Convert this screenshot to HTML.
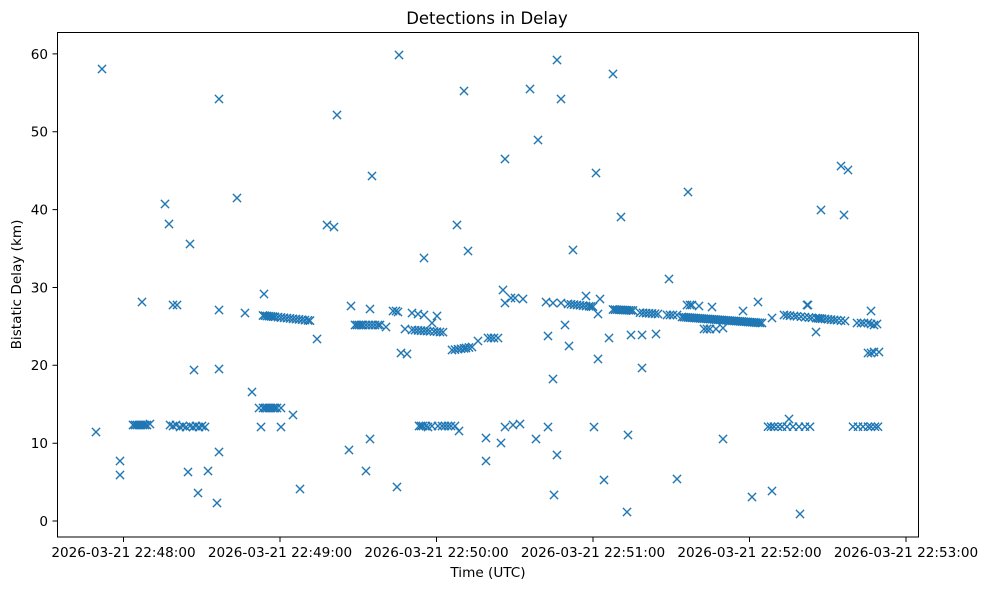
<!DOCTYPE html>
<html><head><meta charset="utf-8"><style>
html,body{margin:0;padding:0;background:#fff;}
svg{display:block;font-family:"DejaVu Sans","Liberation Sans",sans-serif;}
</style></head><body>
<svg width="988" height="590" viewBox="0 0 988 590" xmlns="http://www.w3.org/2000/svg">
<defs><path id="m" d="M-4.1,-4.1L4.1,4.1M-4.1,4.1L4.1,-4.1" stroke="#1f77b4" stroke-width="1.4" fill="none"/></defs>
<rect x="0" y="0" width="988" height="590" fill="#fff"/>
<text x="487" y="24" font-size="16.5" text-anchor="middle" fill="#000">Detections in Delay</text>
<g font-size="13.6" fill="#000">
<g text-anchor="end">
<text x="48" y="526">0</text>
<text x="48" y="448">10</text>
<text x="48" y="370">20</text>
<text x="48" y="292.5">30</text>
<text x="48" y="214.5">40</text>
<text x="48" y="136.5">50</text>
<text x="48" y="59">60</text>
</g>
<g text-anchor="middle">
<text x="123.5" y="557">2026-03-21 22:48:00</text>
<text x="280" y="557">2026-03-21 22:49:00</text>
<text x="436.5" y="557">2026-03-21 22:50:00</text>
<text x="593" y="557">2026-03-21 22:51:00</text>
<text x="749.5" y="557">2026-03-21 22:52:00</text>
<text x="906" y="557">2026-03-21 22:53:00</text>
<text x="488" y="577">Time (UTC)</text>
<text transform="translate(21,284.5) rotate(-90)">Bistatic Delay (km)</text>
</g>
</g>
<g stroke="#000" stroke-width="1">
<path d="M52.5,521H57.5M52.5,443.2H57.5M52.5,365.3H57.5M52.5,287.5H57.5M52.5,209.6H57.5M52.5,131.8H57.5M52.5,53.9H57.5"/>
<path d="M123.5,537V542M280,537V542M436.5,537V542M593,537V542M749.5,537V542M906,537V542"/>
</g>
<g>
<use href="#m" x="96" y="432"/><use href="#m" x="102" y="69"/><use href="#m" x="120" y="461"/><use href="#m" x="120" y="475"/>
<use href="#m" x="133" y="425"/><use href="#m" x="135" y="425"/><use href="#m" x="137" y="425"/><use href="#m" x="139" y="425"/><use href="#m" x="141" y="425"/><use href="#m" x="143" y="425"/><use href="#m" x="145" y="425"/><use href="#m" x="147" y="425"/><use href="#m" x="150" y="424"/>
<use href="#m" x="142" y="302"/><use href="#m" x="165" y="204"/><use href="#m" x="169" y="224"/><use href="#m" x="173" y="305"/><use href="#m" x="177" y="305"/>
<use href="#m" x="170" y="425"/><use href="#m" x="173" y="426"/><use href="#m" x="176" y="425"/><use href="#m" x="180" y="427"/><use href="#m" x="183" y="426"/><use href="#m" x="186" y="427"/><use href="#m" x="190" y="426"/><use href="#m" x="193" y="427"/><use href="#m" x="196" y="426"/><use href="#m" x="199" y="427"/><use href="#m" x="202" y="426"/><use href="#m" x="205" y="427"/>
<use href="#m" x="188" y="472"/><use href="#m" x="190" y="244"/><use href="#m" x="194" y="370"/><use href="#m" x="198" y="493"/><use href="#m" x="208" y="471"/><use href="#m" x="217" y="503"/>
<use href="#m" x="219" y="99"/><use href="#m" x="219" y="310"/><use href="#m" x="219" y="369"/><use href="#m" x="219" y="452"/><use href="#m" x="237" y="198"/><use href="#m" x="245" y="313"/><use href="#m" x="252" y="392"/>
<use href="#m" x="261" y="427"/><use href="#m" x="281" y="427"/>
<use href="#m" x="259" y="408"/><use href="#m" x="263" y="408"/><use href="#m" x="265" y="408"/><use href="#m" x="267" y="408"/><use href="#m" x="269" y="408"/><use href="#m" x="271" y="408"/><use href="#m" x="273" y="408"/><use href="#m" x="275" y="408"/><use href="#m" x="277" y="408"/><use href="#m" x="281" y="408"/>
<use href="#m" x="264" y="294"/>
<use href="#m" x="263" y="315.5"/><use href="#m" x="265" y="315.7"/><use href="#m" x="267" y="316"/><use href="#m" x="269" y="316.2"/><use href="#m" x="271" y="316.4"/><use href="#m" x="273" y="316.6"/><use href="#m" x="275" y="316.8"/><use href="#m" x="278" y="317.1"/><use href="#m" x="281" y="317.5"/><use href="#m" x="284" y="317.8"/><use href="#m" x="287" y="318.1"/><use href="#m" x="290" y="318.4"/><use href="#m" x="293" y="318.8"/><use href="#m" x="296" y="319.1"/><use href="#m" x="299" y="319.4"/><use href="#m" x="302" y="319.7"/><use href="#m" x="305" y="320.1"/><use href="#m" x="308" y="320.4"/><use href="#m" x="310" y="320.6"/>
<use href="#m" x="293" y="415"/><use href="#m" x="300" y="489"/><use href="#m" x="317" y="339"/>
<use href="#m" x="327" y="225"/><use href="#m" x="334" y="227"/><use href="#m" x="337" y="115"/><use href="#m" x="349" y="450"/><use href="#m" x="351" y="306"/>
<use href="#m" x="355" y="325"/><use href="#m" x="357" y="325"/><use href="#m" x="359" y="325"/><use href="#m" x="361" y="325"/><use href="#m" x="363" y="325"/><use href="#m" x="366" y="325"/><use href="#m" x="369" y="325"/><use href="#m" x="372" y="325"/><use href="#m" x="375" y="325"/><use href="#m" x="378" y="325"/><use href="#m" x="380" y="325"/><use href="#m" x="386" y="327"/>
<use href="#m" x="366" y="471"/><use href="#m" x="370" y="309"/><use href="#m" x="370" y="439"/><use href="#m" x="372" y="176"/>
<use href="#m" x="393" y="311"/><use href="#m" x="396" y="311"/><use href="#m" x="398" y="312"/><use href="#m" x="397" y="487"/><use href="#m" x="399" y="55"/>
<use href="#m" x="401" y="353"/><use href="#m" x="407" y="354"/><use href="#m" x="405" y="329"/>
<use href="#m" x="412" y="313"/><use href="#m" x="418" y="314"/><use href="#m" x="424" y="315"/><use href="#m" x="437" y="316"/><use href="#m" x="432" y="323"/>
<use href="#m" x="412" y="330"/><use href="#m" x="415" y="330.2"/><use href="#m" x="418" y="330.4"/><use href="#m" x="421" y="330.6"/><use href="#m" x="424" y="330.8"/><use href="#m" x="427" y="331"/><use href="#m" x="430" y="331.3"/><use href="#m" x="434" y="331.5"/><use href="#m" x="437" y="331.7"/><use href="#m" x="440" y="332"/><use href="#m" x="443" y="332.2"/>
<use href="#m" x="424" y="258"/>
<use href="#m" x="419" y="426"/><use href="#m" x="421" y="426"/><use href="#m" x="423" y="426"/><use href="#m" x="426" y="426"/><use href="#m" x="428" y="427"/><use href="#m" x="432" y="426"/><use href="#m" x="438" y="426"/><use href="#m" x="442" y="426"/><use href="#m" x="445" y="426"/><use href="#m" x="448" y="426"/><use href="#m" x="451" y="426"/><use href="#m" x="455" y="426"/><use href="#m" x="459" y="431"/>
<use href="#m" x="457" y="225"/><use href="#m" x="464" y="91"/><use href="#m" x="468" y="251"/>
<use href="#m" x="452" y="350"/><use href="#m" x="455" y="349.6"/><use href="#m" x="458" y="349.2"/><use href="#m" x="461" y="348.8"/><use href="#m" x="464" y="348.4"/><use href="#m" x="466" y="348"/><use href="#m" x="469" y="347.5"/><use href="#m" x="472" y="347"/>
<use href="#m" x="478" y="341"/><use href="#m" x="486" y="438"/><use href="#m" x="486" y="461"/>
<use href="#m" x="488" y="338"/><use href="#m" x="491" y="338"/><use href="#m" x="494" y="338"/><use href="#m" x="498" y="338"/>
<use href="#m" x="501" y="443"/><use href="#m" x="503" y="290"/><use href="#m" x="505" y="303"/><use href="#m" x="511" y="298"/><use href="#m" x="515" y="298"/><use href="#m" x="523" y="299"/>
<use href="#m" x="505" y="159"/><use href="#m" x="505" y="427"/><use href="#m" x="513" y="425"/><use href="#m" x="520" y="424"/>
<use href="#m" x="530" y="89"/><use href="#m" x="536" y="439"/><use href="#m" x="538" y="140"/>
<use href="#m" x="546" y="302"/><use href="#m" x="553" y="303"/><use href="#m" x="561" y="303"/>
<use href="#m" x="568" y="304"/><use href="#m" x="571" y="304.3"/><use href="#m" x="574" y="304.6"/><use href="#m" x="577" y="305"/><use href="#m" x="580" y="305.3"/><use href="#m" x="583" y="305.6"/><use href="#m" x="586" y="306"/><use href="#m" x="589" y="306.3"/><use href="#m" x="591" y="306.5"/><use href="#m" x="593" y="306.7"/>
<use href="#m" x="548" y="336"/><use href="#m" x="548" y="427"/><use href="#m" x="553" y="379"/><use href="#m" x="554" y="495"/><use href="#m" x="557" y="60"/><use href="#m" x="557" y="455"/><use href="#m" x="561" y="99"/>
<use href="#m" x="565" y="325"/><use href="#m" x="569" y="346"/><use href="#m" x="573" y="250"/><use href="#m" x="586" y="296"/><use href="#m" x="594" y="427"/><use href="#m" x="596" y="173"/>
<use href="#m" x="598" y="314"/><use href="#m" x="598" y="359"/><use href="#m" x="600" y="299"/><use href="#m" x="604" y="480"/><use href="#m" x="609" y="338"/>
<use href="#m" x="613" y="74"/>
<use href="#m" x="613" y="309.5"/><use href="#m" x="615" y="309.6"/><use href="#m" x="617" y="309.7"/><use href="#m" x="619" y="309.8"/><use href="#m" x="621" y="309.9"/><use href="#m" x="623" y="310"/><use href="#m" x="625" y="310.1"/><use href="#m" x="627" y="310.2"/><use href="#m" x="629" y="310.3"/><use href="#m" x="631" y="310.4"/><use href="#m" x="633" y="310.5"/>
<use href="#m" x="621" y="217"/><use href="#m" x="627" y="512"/><use href="#m" x="628" y="435"/>
<use href="#m" x="631" y="335"/><use href="#m" x="642" y="335"/><use href="#m" x="656" y="334"/>
<use href="#m" x="640" y="312.7"/><use href="#m" x="643" y="312.9"/><use href="#m" x="646" y="313.1"/><use href="#m" x="649" y="313.3"/><use href="#m" x="652" y="313.5"/><use href="#m" x="655" y="313.7"/><use href="#m" x="658" y="314"/>
<use href="#m" x="642" y="368"/>
<use href="#m" x="667" y="315"/><use href="#m" x="670" y="315"/><use href="#m" x="673" y="315"/><use href="#m" x="677" y="315"/>
<use href="#m" x="669" y="279"/><use href="#m" x="677" y="479"/>
<use href="#m" x="687" y="305"/><use href="#m" x="690" y="305"/><use href="#m" x="692" y="305"/><use href="#m" x="699" y="306"/><use href="#m" x="712" y="307"/>
<use href="#m" x="688" y="192"/>
<use href="#m" x="682" y="317"/><use href="#m" x="684" y="317.2"/><use href="#m" x="686" y="317.3"/><use href="#m" x="688" y="317.5"/><use href="#m" x="690" y="317.6"/><use href="#m" x="692" y="317.8"/><use href="#m" x="694" y="317.9"/><use href="#m" x="696" y="318.1"/><use href="#m" x="698" y="318.2"/><use href="#m" x="700" y="318.4"/>
<use href="#m" x="702" y="318.5"/><use href="#m" x="704" y="318.7"/><use href="#m" x="706" y="318.8"/><use href="#m" x="708" y="319"/><use href="#m" x="710" y="319.1"/><use href="#m" x="712" y="319.3"/><use href="#m" x="714" y="319.4"/><use href="#m" x="716" y="319.6"/><use href="#m" x="718" y="319.7"/><use href="#m" x="720" y="319.9"/>
<use href="#m" x="722" y="320"/><use href="#m" x="724" y="320.2"/><use href="#m" x="726" y="320.3"/><use href="#m" x="728" y="320.5"/><use href="#m" x="730" y="320.6"/><use href="#m" x="732" y="320.8"/><use href="#m" x="734" y="320.9"/><use href="#m" x="736" y="321.1"/><use href="#m" x="738" y="321.2"/><use href="#m" x="740" y="321.4"/>
<use href="#m" x="742" y="321.5"/><use href="#m" x="744" y="321.7"/><use href="#m" x="746" y="321.8"/><use href="#m" x="748" y="322"/><use href="#m" x="750" y="322.1"/><use href="#m" x="752" y="322.3"/><use href="#m" x="754" y="322.4"/><use href="#m" x="756" y="322.6"/><use href="#m" x="758" y="322.7"/><use href="#m" x="760" y="322.9"/><use href="#m" x="762" y="323"/>
<use href="#m" x="704" y="329"/><use href="#m" x="707" y="329"/><use href="#m" x="710" y="329"/><use href="#m" x="716" y="329"/><use href="#m" x="723" y="328"/>
<use href="#m" x="723" y="439"/><use href="#m" x="743" y="311"/><use href="#m" x="752" y="497"/><use href="#m" x="758" y="302"/>
<use href="#m" x="768" y="426.7"/><use href="#m" x="771" y="426.7"/><use href="#m" x="774" y="426.7"/><use href="#m" x="778" y="426.7"/><use href="#m" x="782" y="426.7"/><use href="#m" x="787" y="426.7"/><use href="#m" x="793" y="426.7"/><use href="#m" x="799" y="426.7"/><use href="#m" x="805" y="426.7"/><use href="#m" x="810" y="426.7"/>
<use href="#m" x="789" y="419"/><use href="#m" x="772" y="318"/><use href="#m" x="772" y="491"/>
<use href="#m" x="784" y="315"/><use href="#m" x="787" y="315.3"/><use href="#m" x="790" y="315.6"/><use href="#m" x="794" y="316"/><use href="#m" x="797" y="316.3"/><use href="#m" x="801" y="316.7"/><use href="#m" x="805" y="317.1"/><use href="#m" x="809" y="317.5"/><use href="#m" x="812" y="317.8"/><use href="#m" x="816" y="318.1"/>
<use href="#m" x="818" y="318.3"/><use href="#m" x="820" y="318.5"/><use href="#m" x="822" y="318.7"/><use href="#m" x="825" y="319"/><use href="#m" x="828" y="319.3"/><use href="#m" x="831" y="319.6"/><use href="#m" x="834" y="319.9"/><use href="#m" x="837" y="320.2"/><use href="#m" x="841" y="320.6"/><use href="#m" x="845" y="321"/>
<use href="#m" x="800" y="514"/><use href="#m" x="807" y="305"/><use href="#m" x="808" y="305"/><use href="#m" x="816" y="332"/><use href="#m" x="821" y="210"/>
<use href="#m" x="841" y="166"/><use href="#m" x="848" y="170"/><use href="#m" x="844" y="215"/>
<use href="#m" x="853" y="426.7"/><use href="#m" x="858" y="426.7"/><use href="#m" x="863" y="426.7"/><use href="#m" x="868" y="426.7"/><use href="#m" x="871" y="426.7"/><use href="#m" x="875" y="426.7"/><use href="#m" x="878" y="426.7"/>
<use href="#m" x="857" y="323"/><use href="#m" x="861" y="323"/><use href="#m" x="864" y="323"/><use href="#m" x="868" y="323"/><use href="#m" x="871" y="324"/><use href="#m" x="874" y="325"/><use href="#m" x="877" y="324"/>
<use href="#m" x="871" y="311"/>
<use href="#m" x="868" y="353"/><use href="#m" x="871" y="353"/><use href="#m" x="874" y="352"/><use href="#m" x="879" y="352"/>
</g>
<rect x="57.5" y="32.5" width="861" height="504.5" fill="none" stroke="#000" stroke-width="1"/>
</svg>
</body></html>
